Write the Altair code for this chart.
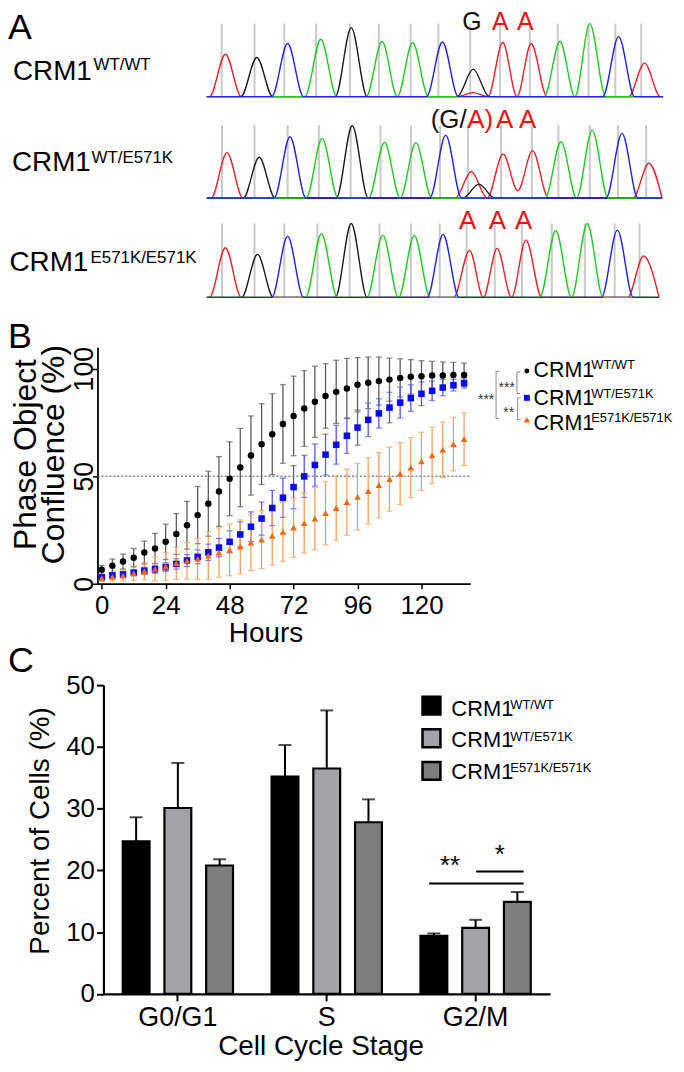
import altair as alt
import pandas as pd

FONT = "Liberation Sans"

# ---------------- Panel A: chromatogram peaks (scan position, signal, base) ----------------
row1_pos = [226.7, 258.3, 289.3, 322.7, 353.3, 384.3, 415.0, 445.0, 476.0, 505.7, 534.3, 563.3, 593.3, 622.3, 648.3, 476.0]
row1_sig = [42.7, 39.4, 53.4, 57.7, 69.4, 55.4, 54.4, 55.0, 27.7, 54.4, 53.4, 55.4, 73.4, 60.4, 33.7, 4.0]
row1_base = ["A", "G", "C", "T", "G", "T", "T", "C", "G", "A", "A", "T", "T", "C", "A", "A"]
row1_grid = [223, 256, 286, 318, 352, 381, 413, 441, 473, 503, 533, 561, 592, 619, 645]

row2_pos = [228.3, 260.7, 291.7, 324.0, 354.3, 386.7, 418.3, 448.3, 474.0, 481.7, 506.0, 535.7, 564.3, 595.7, 625.7, 652.7]
row2_sig = [45.7, 41.0, 61.7, 60.0, 72.7, 56.0, 55.7, 63.3, 26.7, 14.0, 44.3, 47.7, 56.7, 68.3, 65.0, 35.0]
row2_base = ["A", "G", "C", "T", "G", "T", "T", "C", "A", "G", "A", "A", "T", "T", "C", "A"]
row2_grid = [223.3, 256, 289.3, 320.7, 352.7, 382.7, 413.3, 442.7, 470.7, 504, 535, 561.7, 593.3, 621.7, 650]
row2_valleys = [(520.8, 7.3)]

row3_pos = [226.7, 259.0, 289.3, 323.3, 353.3, 385.0, 416.7, 445.7, 472.3, 500.0, 529.0, 559.0, 590.7, 621.0, 647.3]
row3_sig = [50.0, 43.3, 61.7, 64.0, 74.3, 62.7, 62.3, 63.3, 47.3, 49.3, 57.7, 67.3, 74.3, 67.7, 41.7]
row3_base = ["A", "G", "C", "T", "G", "T", "T", "C", "A", "A", "A", "T", "T", "C", "A"]
row3_grid = [223.3, 256, 286, 319.3, 351.7, 381.7, 413.3, 442.3, 469.3, 497.7, 525, 555, 588.3, 618.3, 643.3]

row1_calls = ["G", "A", "A"]
row1_call_pos = [465, 495, 520]
row2_calls = ["(G/", "A)", "A", "A"]
row2_call_pos = [433.3, 470, 499, 522]
row3_calls = ["A", "A", "A"]
row3_call_pos = [461.7, 491.7, 518]

genotype_sup = ["WT/WT", "WT/E571K", "E571K/E571K"]

# ---------------- Panel B: confluence over time ----------------
hours = [0, 4, 8, 12, 16, 20, 24, 28, 32, 36, 40, 44, 48, 52, 56, 60, 64, 68, 72, 76,
         80, 84, 88, 92, 96, 100, 104, 108, 112, 116, 120, 124, 128, 132, 136]
wt_mean = [6.5, 8.4, 10.3, 12.1, 14.5, 16.4, 19.5, 23.1, 27.2, 31.9, 37.2, 42.9, 48.8, 54.0, 59.6,
           64.9, 69.5, 74.3, 78.0, 81.5, 84.6, 87.3, 89.2, 90.8, 92.5, 93.4, 94.2, 94.9, 95.7, 96.2,
           96.5, 96.8, 96.8, 97.0, 97.1]
wt_sd = [2.0, 3.1, 3.5, 4.3, 5.3, 7.0, 8.2, 9.5, 11.1, 13.3, 15.1, 16.2, 17.2, 18.2, 18.4, 18.8, 18.8,
         18.3, 18.5, 17.6, 16.5, 15.0, 14.7, 14.0, 12.6, 12.0, 11.2, 10.0, 8.9, 8.0, 7.2, 6.6, 6.3, 5.9, 5.5]
het_mean = [2.9, 3.8, 4.3, 5.1, 6.0, 6.7, 7.7, 9.2, 10.8, 12.5, 14.6, 16.8, 19.5, 22.9, 26.5, 30.3,
            35.2, 40.0, 44.9, 49.9, 55.2, 60.0, 64.6, 68.8, 72.6, 76.2, 79.2, 81.9, 84.2, 86.3, 88.3,
            89.7, 91.2, 92.3, 93.3]
het_sd = [1.0, 1.0, 1.2, 1.4, 1.6, 1.8, 2.0, 2.4, 2.8, 3.2, 3.8, 4.3, 5.1, 5.8, 6.9, 7.7, 8.2, 9.1,
          10.0, 9.8, 9.8, 9.5, 9.0, 8.2, 8.2, 7.8, 6.8, 7.1, 7.2, 6.2, 5.5, 4.5, 3.8, 2.7, 2.3]
hom_mean = [2.6, 3.2, 3.8, 4.8, 5.8, 6.9, 8.0, 9.5, 10.6, 11.5, 13.1, 14.5, 15.7, 17.2, 19.1, 20.5,
            22.2, 24.1, 26.1, 28.2, 30.3, 32.8, 35.2, 37.9, 40.4, 43.1, 45.8, 48.6, 51.2, 54.0, 56.9,
            59.7, 62.3, 64.9, 67.2]
hom_sd = [1.5, 2.0, 2.5, 3.3, 4.0, 5.6, 6.5, 7.5, 8.5, 9.5, 11.0, 11.5, 12.0, 12.5, 13.0, 13.5, 13.5,
          13.7, 13.8, 13.9, 14.5, 14.7, 15.0, 15.4, 15.5, 15.4, 15.2, 14.9, 14.4, 13.9, 13.5, 13.1,
          12.9, 12.3, 12.2]
half_line = [50]

# ---------------- Panel C: cell cycle ----------------
stages = ["G0/G1", "S", "G2/M"]
c_wt = [24.7, 35.2, 9.4]
c_het = [30.1, 36.5, 10.7]
c_hom = [20.8, 27.8, 14.9]
c_wt_err = [3.9, 5.1, 0.4]
c_het_err = [7.3, 9.4, 1.3]
c_hom_err = [1.0, 3.7, 1.6]

series = ["WT/WT", "WT/E571K", "E571K/E571K"]

RED, BLACK, GREEN, BLUE = "#e3232b", "#1a1a1a", "#22c922", "#2323dc"
W = 16.0


def build_trace(pos, sig, base, start, end, valleys):
    recs = []
    for b in ["A", "G", "T", "C"]:
        pk = sorted((p, s) for p, s, bb in zip(pos, sig, base) if bb == b)
        pts = [(start, 0.0)]
        for i, (p, s) in enumerate(pk):
            if i > 0 and p - pk[i - 1][0] <= 2 * W + 1:
                pts.pop()
                mid = (p + pk[i - 1][0]) / 2
                v = 0.0
                for vx, vh in valleys:
                    if abs(vx - mid) < 8:
                        v = vh
                pts.append((mid, v))
            else:
                pts.append((max(p - W, start), 0.0))
            pts.append((p, s))
            pts.append((min(p + W, end), 0.0))
        pts.append((end, 0.0))
        clean = []
        for x, y in pts:
            if clean and abs(clean[-1][0] - x) < 1e-6:
                continue
            clean.append((x, y))
        for k, (x, y) in enumerate(clean):
            recs.append({"x": x, "y": y, "base": b, "k": k})
    return pd.DataFrame(recs)


def txt(text, x, y, size, align="left", baseline="alphabetic", color="black"):
    return alt.Chart(pd.DataFrame({"t": [text]})).mark_text(
        align=align, baseline=baseline, fontSize=size, font=FONT, color=color
    ).encode(text="t:N", x=alt.value(x), y=alt.value(y))


def vline(x, y1, y2, color="#888888", width=1.0):
    return alt.Chart(pd.DataFrame({"v": [0]})).mark_rule(color=color, strokeWidth=width).encode(
        x=alt.value(x), y=alt.value(y1), y2=alt.value(y2))


def hline(x1, x2, y, color="#888888", width=1.0):
    return alt.Chart(pd.DataFrame({"v": [0]})).mark_rule(color=color, strokeWidth=width).encode(
        x=alt.value(x1), x2=alt.value(x2), y=alt.value(y))


def chrom_row(pos, sig, base, grid, gtop, start, end, valleys, H,
              calls, call_pos, call_colors, call_y, call_size,
              sup, lab_x, lab_y, sup_x, sup_y, extra=None):
    xs = alt.Scale(domain=[98, 680], nice=False, zero=False)
    ys = alt.Scale(domain=[0, H], nice=False, zero=False)
    gdf = pd.DataFrame({"x": grid, "y0": [0] * len(grid), "y1": [gtop] * len(grid)})
    g = alt.Chart(gdf).mark_rule(color="#c9c9c9", strokeWidth=2).encode(
        x=alt.X("x:Q", scale=xs, axis=None),
        y=alt.Y("y0:Q", scale=ys, axis=None), y2="y1:Q")
    tr = alt.Chart(build_trace(pos, sig, base, start, end, valleys)).mark_line(
        interpolate="monotone", strokeWidth=1.4).encode(
        x=alt.X("x:Q", scale=xs, axis=None),
        y=alt.Y("y:Q", scale=ys, axis=None),
        color=alt.Color("base:N", scale=alt.Scale(domain=["A", "G", "T", "C"],
                                                  range=[RED, BLACK, GREEN, BLUE]), legend=None),
        detail="base:N",
        order="k:Q")
    cdf = pd.DataFrame({"t": calls, "x": call_pos, "c": call_colors})
    ct = alt.Chart(cdf).mark_text(align="left", baseline="alphabetic", fontSize=call_size, font=FONT).encode(
        x=alt.X("x:Q", scale=xs, axis=None), y=alt.value(call_y), text="t:N",
        color=alt.Color("c:N", scale=None))
    layers = [g, tr, ct,
              txt("CRM1", lab_x, lab_y, 28),
              txt(sup, sup_x, sup_y, 17)]
    if extra is not None:
        layers += extra
    return alt.layer(*layers).properties(width=582, height=H)


r1 = chrom_row(row1_pos, row1_sig, row1_base, row1_grid, 73.4, 208, 667, [], 75,
               row1_calls, row1_call_pos, ["#111111", "#ee1111", "#ee1111"], 7.6, 25,
               genotype_sup[0], -85, 58.7, -4, 48.5,
               extra=[txt("A", -90, 16.6, 36)])
r2 = chrom_row(row2_pos, row2_sig, row2_base, row2_grid, 73.3, 208, 666, row2_valleys, 102,
               row2_calls, row2_call_pos, ["#111111", "#ee1111", "#ee1111", "#ee1111"], 32, 26,
               genotype_sup[1], -86, 75.3, -6, 67)
r3 = chrom_row(row3_pos, row3_sig, row3_base, row3_grid, 74.3, 208, 663, [], 100,
               row3_calls, row3_call_pos, ["#ee1111", "#ee1111", "#ee1111"], 31, 26,
               genotype_sup[2], -88.5, 73.3, -7, 65)


def spacer(h):
    return alt.Chart(pd.DataFrame({"v": [0]})).mark_point(opacity=0).encode(
        x=alt.value(0), y=alt.value(0)).properties(width=10, height=h)


# ---------------- Panel B chart ----------------
recs = []
for s, m, e in zip(series, [wt_mean, het_mean, hom_mean], [wt_sd, het_sd, hom_sd]):
    for t, mm, ee in zip(hours, m, e):
        recs.append({"t": t, "mean": mm, "sd": ee, "series": s})
bdf = pd.DataFrame(recs)

bx_scale = alt.Scale(domain=[-1.6, 138.3], nice=False, zero=False)
by_scale = alt.Scale(domain=[0, 110], nice=False, zero=False)
bx_axis = alt.Axis(values=[0, 24, 48, 72, 96, 120], title="Hours", grid=False, labelFontSize=26,
                   tickSize=5, tickWidth=1.5, labelPadding=25, labelBaseline="alphabetic", labelFlush=False,
                   titleFontSize=28, titleX=169, titleY=58.3, titleBaseline="alphabetic",
                   titleAlign="center", domainWidth=1.8, titleFontWeight="normal")
by_axis = alt.Axis(values=[0, 50, 100], title=["Phase Object", "Confluence (%)"], grid=False,
                   labelAngle=270, labelAlign="center", labelBaseline="alphabetic", labelPadding=0,
                   tickSize=5, tickWidth=1.5, labelFontSize=27, titleFontSize=32, titleLineHeight=28,
                   titleAngle=270, titleAlign="center", titleBaseline="alphabetic",
                   titleX=-62.5, titleY=107.6, domainWidth=1.8, titleFontWeight="normal")

err_col = alt.Color("series:N", scale=alt.Scale(domain=series, range=["#5c5c5c", "#5555ea", "#f4a262"]),
                    legend=None)
pt_col = alt.Color("series:N", scale=alt.Scale(domain=series, range=["#000000", "#0a0af0", "#f4680c"]),
                   legend=None)

bbase = alt.Chart(bdf).transform_calculate(lo="datum.mean - datum.sd", hi="datum.mean + datum.sd")
b_rule = bbase.mark_rule(strokeWidth=1.3).encode(
    x=alt.X("t:Q", scale=bx_scale, axis=bx_axis),
    y=alt.Y("lo:Q", scale=by_scale, axis=by_axis), y2="hi:Q", color=err_col)
b_cap_hi = bbase.mark_tick(orient="horizontal", size=6, thickness=1.3).encode(
    x=alt.X("t:Q", scale=bx_scale, axis=bx_axis),
    y=alt.Y("hi:Q", scale=by_scale, axis=by_axis), color=err_col)
b_cap_lo = bbase.mark_tick(orient="horizontal", size=6, thickness=1.3).encode(
    x=alt.X("t:Q", scale=bx_scale, axis=bx_axis),
    y=alt.Y("lo:Q", scale=by_scale, axis=by_axis), color=err_col)
b_pts = alt.Chart(bdf).mark_point(filled=True, opacity=1).encode(
    x=alt.X("t:Q", scale=bx_scale, axis=bx_axis),
    y=alt.Y("mean:Q", scale=by_scale, axis=by_axis),
    color=pt_col,
    shape=alt.Shape("series:N", scale=alt.Scale(domain=series, range=["circle", "square", "triangle-up"]),
                    legend=None),
    size=alt.Size("series:N", scale=alt.Scale(domain=series, range=[42, 45, 50]), legend=None))
b_half = alt.Chart(pd.DataFrame({"y": half_line})).mark_rule(
    color="#444444", strokeWidth=1, strokeDash=[2, 2]).encode(
    y=alt.Y("y:Q", scale=by_scale, axis=by_axis), x=alt.value(0), x2=alt.value(375))

b_legend = []
sym_shapes = ["circle", "square", "triangle-up"]
sym_colors = ["#000000", "#0a0af0", "#f4680c"]
for i in range(3):
    sy = [24, 51, 73][i]
    b_legend.append(alt.Chart(pd.DataFrame({"v": [0]})).mark_point(
        filled=True, opacity=1, shape=sym_shapes[i], size=[25, 36, 40][i], color=sym_colors[i]).encode(
        x=alt.value(432), y=alt.value(sy)))
    b_legend.append(txt("CRM1", 438.7, [30, 58.3, 83.3][i], 21.5))
    b_legend.append(txt(series[i], 496.7, [21.7, 50.7, 75.7][i], 13))
b_legend += [
    vline(422, 25, 46.7), hline(422, 425, 25), hline(422, 425, 46.7),
    vline(422.7, 51, 73), hline(422.7, 425.7, 51), hline(422.7, 425.7, 73),
    vline(401, 24.3, 71.7), hline(401, 404, 24.3), hline(401, 404, 71.7),
    txt("***", 411.7, 41, 14, align="center", baseline="middle", color="#333333"),
    txt("**", 413.7, 66, 14, align="center", baseline="middle", color="#333333"),
    txt("***", 391, 53, 14, align="center", baseline="middle", color="#333333"),
    txt("B", -90, 1.3, 36),
]

chart_b = alt.layer(b_half, b_rule, b_cap_hi, b_cap_lo, b_pts, *b_legend).resolve_scale(
    color="independent").properties(width=375, height=238)

# ---------------- Panel C chart ----------------
crecs = []
for g, vals, errs in zip(series, [c_wt, c_het, c_hom], [c_wt_err, c_het_err, c_hom_err]):
    for st, v, e in zip(stages, vals, errs):
        crecs.append({"stage": st, "geno": g, "mean": v, "err": e})
cdf = pd.DataFrame(crecs)

cx = alt.X("stage:N", sort=stages,
           scale=alt.Scale(range=[6, 455.3], paddingInner=0, paddingOuter=0),
           axis=alt.Axis(title="Cell Cycle Stage", labelAngle=0, labelFontSize=27, tickSize=7, tickWidth=2,
                         labelPadding=25, labelBaseline="alphabetic", titleFontSize=28, titleX=224.5,
                         titleY=61.3, titleBaseline="alphabetic", titleAlign="center", domainWidth=2.2,
                         titleFontWeight="normal"))
cxo = alt.XOffset("geno:N", sort=series, scale=alt.Scale(paddingInner=0.357, paddingOuter=0.462))
cy_scale = alt.Scale(domain=[0, 50], nice=False, zero=False)
cy_axis = alt.Axis(values=[0, 10, 20, 30, 40, 50], title="Percent of Cells (%)", offset=-6, tickSize=7,
                   tickWidth=2, labelPadding=2, labelFontSize=26, titleFontSize=28, titleAngle=270,
                   titleAlign="center", titleBaseline="alphabetic", titleX=-55, titleY=146.2,
                   domainWidth=2.2, grid=False, titleFontWeight="normal")
fill_col = alt.Color("geno:N", scale=alt.Scale(domain=series, range=["#000000", "#a2a2a7", "#7e7e7e"]),
                     legend=None)

cbase = alt.Chart(cdf).transform_calculate(hi="datum.mean + datum.err")
c_err = cbase.mark_rule(color="black", strokeWidth=2).encode(
    x=cx, xOffset=cxo, y=alt.Y("mean:Q", scale=cy_scale, axis=cy_axis), y2="hi:Q")
c_cap = cbase.mark_tick(color="black", thickness=2, size=13, orient="horizontal").encode(
    x=cx, xOffset=cxo, y=alt.Y("hi:Q", scale=cy_scale, axis=cy_axis))
c_bar = alt.Chart(cdf).mark_bar(stroke="black", strokeWidth=2.2).encode(
    x=cx, xOffset=cxo, y=alt.Y("mean:Q", scale=cy_scale, axis=cy_axis), color=fill_col)

c_extra = []
sq_fill = ["#000000", "#a2a2a7", "#7e7e7e"]
for i in range(3):
    c_extra.append(alt.Chart(pd.DataFrame({"v": [0]})).mark_square(
        size=324, fill=sq_fill[i], stroke="black", strokeWidth=2.5, opacity=1).encode(
        x=alt.value(336), y=alt.value(20.7 + 32.8 * i)))
    c_extra.append(txt("CRM1", 356, 30.7 + 32 * i, 22))
    c_extra.append(txt(series[i], 415.3, 24 + 31.8 * i, 13))
c_extra += [
    hline(333.7, 428.7, 199.6, color="black", width=2),
    hline(381, 428.7, 187.6, color="black", width=2),
    txt("**", 354.7, 190, 26, align="center"),
    txt("*", 404.7, 178.5, 26, align="center"),
    txt("C", -90, -12.7, 36),
]

chart_c = alt.layer(c_bar, c_err, c_cap, *c_extra).properties(width=457, height=310.7)

chart = alt.VConcatChart(
    vconcat=[r1, r2, r3, spacer(50), chart_b, spacer(101.3), chart_c],
    spacing=0, bounds="flush",
    padding={"top": -2, "left": 0, "right": 0, "bottom": 0}
).resolve_scale(color="independent", shape="independent", size="independent").configure_view(
    stroke=None
).configure_axis(
    labelFont=FONT, titleFont=FONT, domainColor="black", tickColor="black",
    labelColor="black", titleColor="black"
).configure_text(font=FONT)

chart.save("out.html", embed_options={"renderer": "svg", "actions": False})
